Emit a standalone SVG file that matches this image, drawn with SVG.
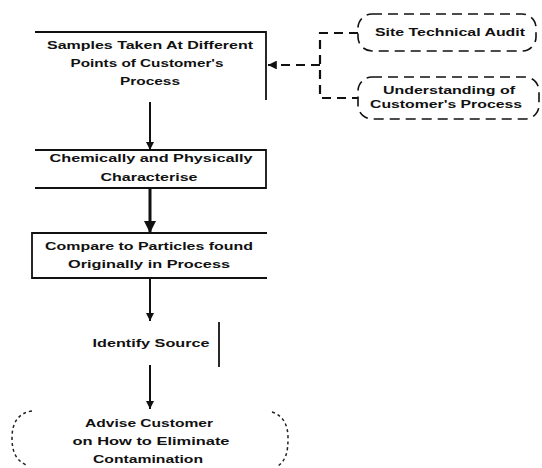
<svg xmlns="http://www.w3.org/2000/svg" width="542" height="468" viewBox="0 0 542 468">
<defs>
<style>
.t{font-family:"Liberation Sans",Arial,sans-serif;font-weight:bold;font-size:11.5px;fill:#111;text-anchor:middle}
.edge{fill:none;stroke:#111;stroke-width:1.8}
.conn{fill:none;stroke:#111;stroke-width:2}
.dash{fill:none;stroke:#111;stroke-width:2.2;stroke-dasharray:9 6}
.dot{fill:none;stroke:#222;stroke-width:1.5;stroke-dasharray:3 3}
.node{fill:none;stroke:#111;stroke-width:1.6;stroke-dasharray:10 6}
</style>
<marker id="ah" viewBox="0 0 10 10" refX="10" refY="5" markerWidth="4" markerHeight="4" orient="auto" markerUnits="strokeWidth">
<path d="M0,0 L10,5 L0,10 z" fill="#111"/>
</marker>
</defs>
<rect width="542" height="468" fill="#fff"/>

<g id="connectors">
<line class="conn" x1="150" y1="102" x2="150" y2="150" marker-end="url(#ah)"/>
<line class="conn" x1="150" y1="188" x2="150" y2="233" style="stroke-width:3" marker-end="url(#ah)"/>
<line class="conn" x1="150" y1="278" x2="150" y2="321" marker-end="url(#ah)"/>
<line class="conn" x1="150" y1="365" x2="150" y2="409" marker-end="url(#ah)"/>
<polyline class="dash" points="358,33 320,33 320,98 358,98"/>
<line class="dash" x1="320" y1="65" x2="268" y2="65" marker-end="url(#ah)"/>
</g>

<g id="n1">
<polyline class="edge" points="35,32 266,32 266,100"/>
<text class="t" x="150" y="49" textLength="206" lengthAdjust="spacingAndGlyphs">Samples Taken At Different</text>
<text class="t" x="147" y="67" textLength="153" lengthAdjust="spacingAndGlyphs">Points of Customer's</text>
<text class="t" x="150" y="85" textLength="60" lengthAdjust="spacingAndGlyphs">Process</text>
</g>

<g id="n2">
<polyline class="edge" points="35,150 266,150 266,188 35,188"/>
<text class="t" x="151" y="162" textLength="203" lengthAdjust="spacingAndGlyphs">Chemically and Physically</text>
<text class="t" x="149" y="181" textLength="97" lengthAdjust="spacingAndGlyphs">Characterise</text>
</g>

<g id="n3">
<polyline class="edge" points="267,233 32,233 32,278 267,278"/>
<text class="t" x="149" y="250" textLength="208" lengthAdjust="spacingAndGlyphs">Compare to Particles found</text>
<text class="t" x="149" y="268" textLength="162" lengthAdjust="spacingAndGlyphs">Originally in Process</text>
</g>

<g id="n4">
<line class="edge" x1="219" y1="322" x2="219" y2="367"/>
<text class="t" x="151" y="347" textLength="117" lengthAdjust="spacingAndGlyphs">Identify Source</text>
</g>

<g id="n5">
<path class="dot" d="M32,411 C18,413 12,423 12,438 C12,452 16,460 26,465"/>
<path class="dot" d="M272,412 C284,416 288,426 288,438 C288,452 286,460 278,466"/>
<text class="t" x="149" y="427" textLength="128" lengthAdjust="spacingAndGlyphs">Advise Customer</text>
<text class="t" x="151" y="445" textLength="157" lengthAdjust="spacingAndGlyphs">on How to Eliminate</text>
<text class="t" x="148" y="463" textLength="110" lengthAdjust="spacingAndGlyphs">Contamination</text>
</g>

<g id="n6">
<rect class="node" x="358" y="14" width="178" height="37" rx="14"/>
<text class="t" x="450" y="36" textLength="150" lengthAdjust="spacingAndGlyphs">Site Technical Audit</text>
</g>

<g id="n7">
<rect class="node" x="358" y="77" width="181" height="42" rx="14"/>
<text class="t" x="449" y="94" textLength="132" lengthAdjust="spacingAndGlyphs">Understanding of</text>
<text class="t" x="446" y="108" textLength="152" lengthAdjust="spacingAndGlyphs">Customer's Process</text>
</g>
</svg>
